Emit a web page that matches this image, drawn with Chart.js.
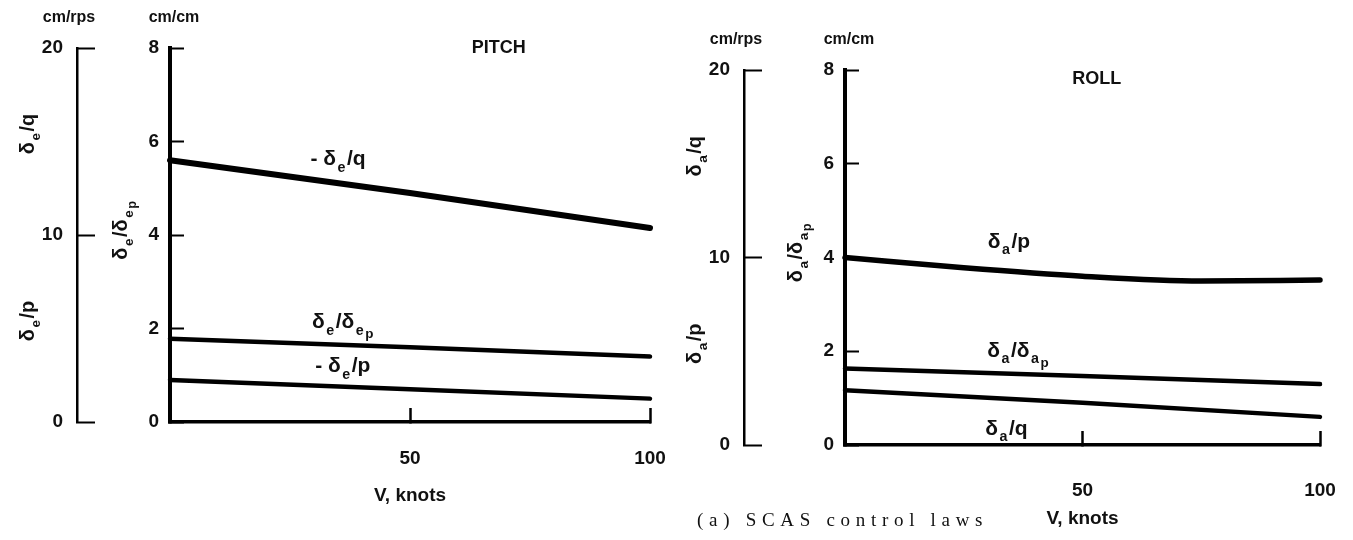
<!DOCTYPE html>
<html>
<head>
<meta charset="utf-8">
<title>SCAS control laws</title>
<script src="https://cdn.jsdelivr.net/npm/chart.js@4"></script>
<style>
  html, body { margin: 0; padding: 0; background: #fff; }
  #wrap { position: relative; width: 1353px; height: 540px; overflow: hidden; }
  #pitchChart { position: absolute; left: 0; top: 0; }
  #rollChart { position: absolute; left: 676px; top: 0; }
  #caption { position: absolute; left: 697px; top: 509px; font: 19px 'Liberation Serif', serif;
             letter-spacing: 5.7px; color: #111; white-space: nowrap; }
</style>
</head>
<body>
<div id="wrap">
  <canvas id="pitchChart" width="676" height="540"></canvas>
  <canvas id="rollChart" width="677" height="540"></canvas>
  <div id="caption">(a) SCAS control laws</div>
</div>
<script>
// Values
var speedTicks = [0, 50, 100];      // V, knots
var gainTicks = [0, 2, 4, 6, 8];    // cm/cm
var rateTicks = [0, 10, 20];        // cm/rps

// PITCH
var pitchSpeeds = [0, 50, 100];
var pitchRateGain = [5.6, 4.9, 4.15];    // -de/q
var pitchStickGain = [1.78, 1.6, 1.4];   // de/dep
var pitchRollGain = [0.9, 0.7, 0.5];     // -de/p

// ROLL
var rollCurveSpeeds = [0, 25, 50, 75, 100];
var rollRateGain = [4.0, 3.78, 3.6, 3.5, 3.52]; // da/p
var rollSpeeds = [0, 50, 100];
var rollStickGain = [1.63, 1.47, 1.3];   // da/dap
var rollPitchGain = [1.17, 0.9, 0.6];    // da/q

var FONT = "'Liberation Sans', Arial, sans-serif";
Chart.defaults.font.family = FONT;
Chart.defaults.color = '#111';

function series(xs, ys) {
  return xs.map(function(x, i) { return { x: x, y: ys[i] }; });
}

// text with subscripts: parts = [[text, level]], level 0 normal, 1 sub, 2 sub-sub
function drawRich(ctx, parts, x, y, size, rotate) {
  var sizes = [size, size * 0.68, size * 0.64];
  var drops = [0, size * 0.3, size * 0.45];
  var gap = 1.5;
  var total = 0;
  parts.forEach(function(p) {
    ctx.font = 'bold ' + sizes[p[1]] + 'px ' + FONT;
    total += ctx.measureText(p[0]).width + gap;
  });
  total -= gap;
  ctx.save();
  ctx.translate(x, y);
  if (rotate) ctx.rotate(-Math.PI / 2);
  ctx.textAlign = 'left';
  ctx.textBaseline = 'alphabetic';
  ctx.fillStyle = '#111';
  var cx = -total / 2;
  parts.forEach(function(p) {
    ctx.font = 'bold ' + sizes[p[1]] + 'px ' + FONT;
    ctx.fillText(p[0], cx, size * 0.35 + drops[p[1]]);
    cx += ctx.measureText(p[0]).width + gap;
  });
  ctx.restore();
}

var figureText = {
  id: 'figureText',
  afterDraw: function(chart, args, opts) {
    var ctx = chart.ctx, area = chart.chartArea;
    var sx = chart.scales.x, sy = chart.scales.y;
    ctx.save();
    ctx.fillStyle = '#111';
    ctx.textAlign = 'center';
    ctx.textBaseline = 'middle';
    ctx.font = 'bold 16px ' + FONT;
    opts.units.forEach(function(u) {
      ctx.fillText(u.text, chart.scales[u.axis].right + u.dx, area.top - 30);
    });
    ctx.font = 'bold 18px ' + FONT;
    ctx.fillText(opts.title.text, sx.getPixelForValue(opts.title.x), sy.getPixelForValue(opts.title.y));
    ctx.restore();

    opts.curveLabels.forEach(function(l) {
      drawRich(ctx, l.parts, sx.getPixelForValue(l.x), sy.getPixelForValue(l.y), 21, false);
    });
    // rotated labels beside the vertical axes
    opts.sideLabels.forEach(function(l) {
      var s = chart.scales[l.axis];
      drawRich(ctx, l.parts, s.right - 50, s.getPixelForValue(l.value), 20, true);
    });
  }
};

function makeChart(id, datasets, text, lay) {
  var tickFont = { size: 19, weight: 'bold' };
  return new Chart(document.getElementById(id), {
    type: 'line',
    data: { datasets: datasets },
    options: {
      responsive: false,
      animation: false,
      layout: { padding: { top: lay.top, right: lay.right, bottom: lay.bottom, left: 0 } },
      elements: {
        point: { radius: 0 },
        line: { borderColor: '#000', borderCapStyle: 'round', borderJoinStyle: 'round', fill: false }
      },
      plugins: {
        legend: { display: false },
        tooltip: { enabled: false },
        figureText: text
      },
      scales: {
        x: {
          type: 'linear', min: 0, max: 100,
          afterBuildTicks: function(s) { s.ticks = speedTicks.map(function(v) { return { value: v }; }); },
          afterFit: function(s) {
            // labels sit far below the axis; don't let that padding shrink the plot width
            s.height = 85;
            s.paddingLeft = 0;
            s.paddingRight = 18;
          },
          border: { display: true, color: '#000', width: 3.5 },
          grid: { drawOnChartArea: false, tickLength: -14, tickWidth: 2.5, tickColor: '#000' },
          ticks: {
            font: tickFont, color: '#111', padding: lay.xPad, maxRotation: 0,
            callback: function(v) { return v === 0 ? '' : v; }
          },
          title: { display: true, text: 'V, knots', font: { size: 19, weight: 'bold' }, color: '#111',
                   padding: { top: 0, bottom: 0 } }
        },
        y: {
          position: 'left', weight: 0, min: 0, max: 8,
          afterBuildTicks: function(s) { s.ticks = gainTicks.map(function(v) { return { value: v }; }); },
          afterFit: function(s) { s.width = lay.mainW; },
          border: { display: true, color: '#000', width: 4 },
          grid: { drawOnChartArea: false, tickLength: -14, tickWidth: 2, tickColor: '#000' },
          ticks: { font: tickFont, color: '#111', padding: 25 }
        },
        yAux: {
          position: 'left', weight: 1, min: 0, max: 20,
          afterBuildTicks: function(s) { s.ticks = rateTicks.map(function(v) { return { value: v }; }); },
          afterFit: function(s) { s.width = lay.auxW; },
          border: { display: true, color: '#000', width: 2.5 },
          grid: { drawOnChartArea: false, tickLength: -18, tickWidth: 2, tickColor: '#000' },
          ticks: { font: tickFont, color: '#111', padding: 32 }
        }
      }
    },
    plugins: [figureText]
  });
}

makeChart('pitchChart', [
  { data: series(pitchSpeeds, pitchRateGain), borderWidth: 6, clip: false },
  { data: series(pitchSpeeds, pitchStickGain), borderWidth: 4.5, clip: false },
  { data: series(pitchSpeeds, pitchRollGain), borderWidth: 4.5, clip: false }
], {
  units: [{ text: 'cm/rps', axis: 'yAux', dx: -8 }, { text: 'cm/cm', axis: 'y', dx: 4 }],
  title: { text: 'PITCH', x: 68.5, y: 8 },
  curveLabels: [
    { parts: [['- δ', 0], ['e', 1], ['/q', 0]], x: 35, y: 5.65 },
    { parts: [['δ', 0], ['e', 1], ['/δ', 0], ['e', 1], ['p', 2]], x: 36, y: 2.16 },
    { parts: [['- δ', 0], ['e', 1], ['/p', 0]], x: 36, y: 1.22 }
  ],
  sideLabels: [
    { parts: [['δ', 0], ['e', 1], ['/q', 0]], axis: 'yAux', value: 15.4 },
    { parts: [['δ', 0], ['e', 1], ['/p', 0]], axis: 'yAux', value: 5.4 },
    { parts: [['δ', 0], ['e', 1], ['/δ', 0], ['e', 1], ['p', 2]], axis: 'y', value: 4.1 }
  ]
}, { top: 48, right: 26, bottom: 33, auxW: 77, mainW: 93, xPad: 39 });

makeChart('rollChart', [
  { data: series(rollCurveSpeeds, rollRateGain), borderWidth: 5.5, cubicInterpolationMode: 'monotone', clip: false },
  { data: series(rollSpeeds, rollStickGain), borderWidth: 4.5, clip: false },
  { data: series(rollSpeeds, rollPitchGain), borderWidth: 4.5, clip: false }
], {
  units: [{ text: 'cm/rps', axis: 'yAux', dx: -8 }, { text: 'cm/cm', axis: 'y', dx: 4 }],
  title: { text: 'ROLL', x: 53, y: 7.8 },
  curveLabels: [
    { parts: [['δ', 0], ['a', 1], ['/p', 0]], x: 34.5, y: 4.37 },
    { parts: [['δ', 0], ['a', 1], ['/δ', 0], ['a', 1], ['p', 2]], x: 36.4, y: 2.03 },
    { parts: [['δ', 0], ['a', 1], ['/q', 0]], x: 34, y: 0.38 }
  ],
  sideLabels: [
    { parts: [['δ', 0], ['a', 1], ['/q', 0]], axis: 'yAux', value: 15.4 },
    { parts: [['δ', 0], ['a', 1], ['/p', 0]], axis: 'yAux', value: 5.4 },
    { parts: [['δ', 0], ['a', 1], ['/δ', 0], ['a', 1], ['p', 2]], axis: 'y', value: 4.1 }
  ]
}, { top: 70, right: 33, bottom: 10, auxW: 68, mainW: 101, xPad: 48 });
</script>
</body>
</html>
